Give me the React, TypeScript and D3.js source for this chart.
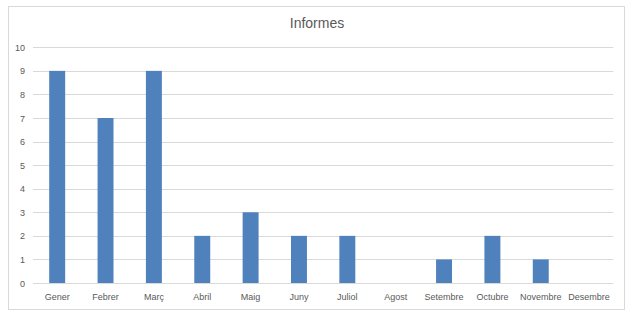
import React from "react";
import * as d3 from "d3";

const categories = ["Gener","Febrer","Març","Abril","Maig","Juny","Juliol","Agost","Setembre","Octubre","Novembre","Desembre"];
const values = [9,7,9,2,3,2,2,0,1,2,1,0];
const yTicks = [0,1,2,3,4,5,6,7,8,9,10];
const title = "Informes";

export default function App() {
  const W = 635, H = 318;
  const left = 33, right = 613.3, top = 47.3, bottom = 283;
  const x = d3.scaleBand<string>().domain(categories).range([left, right]).paddingInner(0.67).paddingOuter(0.335);
  const y = d3.scaleLinear().domain([0, 10]).range([bottom, top]);
  const font = "'Liberation Sans', 'DejaVu Sans', sans-serif";
  return (
    <svg width={W} height={H} style={{ position: "absolute", left: 0, top: 0, background: "#fff" }}>
      <rect x={8.5} y={6.5} width={616} height={303} fill="#fff" stroke="#d9d9d9" />
      <text x={317} y={28} textAnchor="middle" fontFamily={font} fontSize={14} fill="#595959">{title}</text>
      {yTicks.map(t => (
        <g key={t}>
          <line x1={left} x2={right} y1={Math.round(y(t)) + 0.5} y2={Math.round(y(t)) + 0.5} stroke="#d9d9d9" />
          <text x={25} y={y(t) + 3.5} textAnchor="end" fontFamily={font} fontSize={9} fill="#595959">{t}</text>
        </g>
      ))}
      {categories.map((c, i) => (
        <g key={c}>
          {values[i] > 0 && (
            <rect x={x(c)} y={y(values[i])} width={x.bandwidth()} height={y(0) - y(values[i])} fill="#4f81bd" />
          )}
          <text x={(x(c) as number) + x.bandwidth() / 2} y={300} textAnchor="middle" fontFamily={font} fontSize={9} fill="#595959">{c}</text>
        </g>
      ))}
    </svg>
  );
}
